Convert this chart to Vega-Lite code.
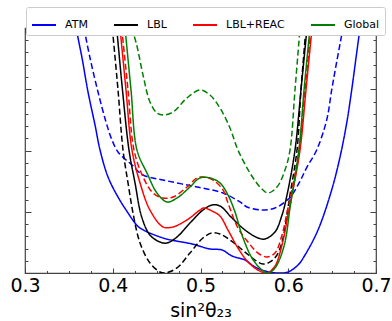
{
  "$schema": "https://vega.github.io/schema/vega-lite/v6.json",
  "width": 351,
  "height": 245,
  "autosize": {"type": "none"},
  "padding": {"left": 25, "top": 28, "right": 16, "bottom": 48},
  "background": "white",
  "config": {
    "view": {"stroke": "#444", "strokeWidth": 1.2},
    "font": "DejaVu Sans"
  },
  "datasets": {
    "curves": [
      {"s":"ATM","d":"dashed","x":0.3672,"y":20},{"s":"ATM","d":"dashed","x":0.3741,"y":17.55},{"s":"ATM","d":"dashed","x":0.3832,"y":14.78},{"s":"ATM","d":"dashed","x":0.3923,"y":12.33},{"s":"ATM","d":"dashed","x":0.3991,"y":10.86},{"s":"ATM","d":"dashed","x":0.4060,"y":9.88},{"s":"ATM","d":"dashed","x":0.4140,"y":9.31},{"s":"ATM","d":"dashed","x":0.4219,"y":8.82},{"s":"ATM","d":"dashed","x":0.4345,"y":8.0},{"s":"ATM","d":"dashed","x":0.4573,"y":7.59},{"s":"ATM","d":"dashed","x":0.4960,"y":7.02},{"s":"ATM","d":"dashed","x":0.5256,"y":6.53},{"s":"ATM","d":"dashed","x":0.5450,"y":5.8},{"s":"ATM","d":"dashed","x":0.5530,"y":5.39},{"s":"ATM","d":"dashed","x":0.5701,"y":5.14},{"s":"ATM","d":"dashed","x":0.5849,"y":5.31},{"s":"ATM","d":"dashed","x":0.5963,"y":5.8},{"s":"ATM","d":"dashed","x":0.6043,"y":6.37},{"s":"ATM","d":"dashed","x":0.6134,"y":7.5},{"s":"ATM","d":"dashed","x":0.6210,"y":8.6},{"s":"ATM","d":"dashed","x":0.6324,"y":10.04},{"s":"ATM","d":"dashed","x":0.6438,"y":12.49},{"s":"ATM","d":"dashed","x":0.6495,"y":14.94},{"s":"ATM","d":"dashed","x":0.6556,"y":17.39},{"s":"ATM","d":"dashed","x":0.6624,"y":20},
      {"s":"ATM","d":"solid","x":0.3581,"y":20},{"s":"ATM","d":"solid","x":0.3650,"y":17.55},{"s":"ATM","d":"solid","x":0.3718,"y":14.78},{"s":"ATM","d":"solid","x":0.3798,"y":12.08},{"s":"ATM","d":"solid","x":0.3855,"y":10.04},{"s":"ATM","d":"solid","x":0.3946,"y":7.84},{"s":"ATM","d":"solid","x":0.4060,"y":6.2},{"s":"ATM","d":"solid","x":0.4174,"y":4.9},{"s":"ATM","d":"solid","x":0.4254,"y":4.08},{"s":"ATM","d":"solid","x":0.4311,"y":3.67},{"s":"ATM","d":"solid","x":0.4573,"y":2.86},{"s":"ATM","d":"solid","x":0.4903,"y":2.37},{"s":"ATM","d":"solid","x":0.5108,"y":1.96},{"s":"ATM","d":"solid","x":0.5245,"y":1.88},{"s":"ATM","d":"solid","x":0.5359,"y":1.39},{"s":"ATM","d":"solid","x":0.5507,"y":1.06},{"s":"ATM","d":"solid","x":0.5621,"y":0.49},{"s":"ATM","d":"solid","x":0.5735,"y":0.16},{"s":"ATM","d":"solid","x":0.5883,"y":0.0},{"s":"ATM","d":"solid","x":0.5997,"y":0.08},{"s":"ATM","d":"solid","x":0.6111,"y":0.65},{"s":"ATM","d":"solid","x":0.6191,"y":1.47},{"s":"ATM","d":"solid","x":0.6339,"y":3.51},{"s":"ATM","d":"solid","x":0.6495,"y":6.78},{"s":"ATM","d":"solid","x":0.6590,"y":9.47},{"s":"ATM","d":"solid","x":0.6666,"y":12.24},{"s":"ATM","d":"solid","x":0.6723,"y":14.94},{"s":"ATM","d":"solid","x":0.6772,"y":17.55},{"s":"ATM","d":"solid","x":0.6818,"y":20},
      {"s":"LBL","d":"dashed","x":0.3995,"y":20},{"s":"LBL","d":"dashed","x":0.4060,"y":14.94},{"s":"LBL","d":"dashed","x":0.4117,"y":10.04},{"s":"LBL","d":"dashed","x":0.4174,"y":7.35},{"s":"LBL","d":"dashed","x":0.4231,"y":4.9},{"s":"LBL","d":"dashed","x":0.4311,"y":2.45},{"s":"LBL","d":"dashed","x":0.4424,"y":0.82},{"s":"LBL","d":"dashed","x":0.4538,"y":0.08},{"s":"LBL","d":"dashed","x":0.4595,"y":0.0},{"s":"LBL","d":"dashed","x":0.4732,"y":0.41},{"s":"LBL","d":"dashed","x":0.4880,"y":1.63},{"s":"LBL","d":"dashed","x":0.5028,"y":2.86},{"s":"LBL","d":"dashed","x":0.5131,"y":3.27},{"s":"LBL","d":"dashed","x":0.5222,"y":3.18},{"s":"LBL","d":"dashed","x":0.5336,"y":2.69},{"s":"LBL","d":"dashed","x":0.5507,"y":1.71},{"s":"LBL","d":"dashed","x":0.5621,"y":1.06},{"s":"LBL","d":"dashed","x":0.5712,"y":0.73},{"s":"LBL","d":"dashed","x":0.5792,"y":0.9},{"s":"LBL","d":"dashed","x":0.5872,"y":1.47},{"s":"LBL","d":"dashed","x":0.5929,"y":2.53},{"s":"LBL","d":"dashed","x":0.5963,"y":3.67},{"s":"LBL","d":"dashed","x":0.5997,"y":5.31},{"s":"LBL","d":"dashed","x":0.6020,"y":6.37},{"s":"LBL","d":"dashed","x":0.6100,"y":10.04},{"s":"LBL","d":"dashed","x":0.6145,"y":14.94},{"s":"LBL","d":"dashed","x":0.6202,"y":20},
      {"s":"LBL","d":"solid","x":0.4045,"y":20},{"s":"LBL","d":"solid","x":0.4111,"y":14.94},{"s":"LBL","d":"solid","x":0.4185,"y":10.04},{"s":"LBL","d":"solid","x":0.4254,"y":7.35},{"s":"LBL","d":"solid","x":0.4330,"y":4.57},{"s":"LBL","d":"solid","x":0.4424,"y":3.1},{"s":"LBL","d":"solid","x":0.4538,"y":2.53},{"s":"LBL","d":"solid","x":0.4618,"y":2.45},{"s":"LBL","d":"solid","x":0.4732,"y":2.94},{"s":"LBL","d":"solid","x":0.4880,"y":4.08},{"s":"LBL","d":"solid","x":0.5028,"y":5.14},{"s":"LBL","d":"solid","x":0.5131,"y":5.55},{"s":"LBL","d":"solid","x":0.5222,"y":5.47},{"s":"LBL","d":"solid","x":0.5359,"y":4.49},{"s":"LBL","d":"solid","x":0.5507,"y":3.51},{"s":"LBL","d":"solid","x":0.5655,"y":2.86},{"s":"LBL","d":"solid","x":0.5735,"y":2.78},{"s":"LBL","d":"solid","x":0.5849,"y":3.35},{"s":"LBL","d":"solid","x":0.5929,"y":4.73},{"s":"LBL","d":"solid","x":0.5986,"y":6.37},{"s":"LBL","d":"solid","x":0.6077,"y":10.04},{"s":"LBL","d":"solid","x":0.6145,"y":14.94},{"s":"LBL","d":"solid","x":0.6214,"y":20},
      {"s":"LBL+REAC","d":"dashed","x":0.4102,"y":20},{"s":"LBL+REAC","d":"dashed","x":0.4174,"y":14.94},{"s":"LBL+REAC","d":"dashed","x":0.4242,"y":10.04},{"s":"LBL+REAC","d":"dashed","x":0.4345,"y":7.84},{"s":"LBL+REAC","d":"dashed","x":0.4459,"y":6.53},{"s":"LBL+REAC","d":"dashed","x":0.4573,"y":6.12},{"s":"LBL+REAC","d":"dashed","x":0.4687,"y":6.2},{"s":"LBL+REAC","d":"dashed","x":0.4846,"y":7.02},{"s":"LBL+REAC","d":"dashed","x":0.4960,"y":7.76},{"s":"LBL+REAC","d":"dashed","x":0.5028,"y":7.84},{"s":"LBL+REAC","d":"dashed","x":0.5142,"y":7.59},{"s":"LBL+REAC","d":"dashed","x":0.5256,"y":6.78},{"s":"LBL+REAC","d":"dashed","x":0.5313,"y":5.71},{"s":"LBL+REAC","d":"dashed","x":0.5427,"y":3.67},{"s":"LBL+REAC","d":"dashed","x":0.5541,"y":2.53},{"s":"LBL+REAC","d":"dashed","x":0.5655,"y":1.63},{"s":"LBL+REAC","d":"dashed","x":0.5758,"y":1.31},{"s":"LBL+REAC","d":"dashed","x":0.5849,"y":1.63},{"s":"LBL+REAC","d":"dashed","x":0.5929,"y":3.1},{"s":"LBL+REAC","d":"dashed","x":0.5997,"y":5.31},{"s":"LBL+REAC","d":"dashed","x":0.6031,"y":6.37},{"s":"LBL+REAC","d":"dashed","x":0.6122,"y":10.04},{"s":"LBL+REAC","d":"dashed","x":0.6191,"y":14.94},{"s":"LBL+REAC","d":"dashed","x":0.6259,"y":20},
      {"s":"LBL+REAC","d":"solid","x":0.4083,"y":20},{"s":"LBL+REAC","d":"solid","x":0.4151,"y":14.94},{"s":"LBL+REAC","d":"solid","x":0.4219,"y":10.04},{"s":"LBL+REAC","d":"solid","x":0.4311,"y":7.35},{"s":"LBL+REAC","d":"solid","x":0.4424,"y":5.14},{"s":"LBL+REAC","d":"solid","x":0.4573,"y":3.76},{"s":"LBL+REAC","d":"solid","x":0.4687,"y":3.76},{"s":"LBL+REAC","d":"solid","x":0.4846,"y":4.33},{"s":"LBL+REAC","d":"solid","x":0.4994,"y":5.14},{"s":"LBL+REAC","d":"solid","x":0.5040,"y":5.31},{"s":"LBL+REAC","d":"solid","x":0.5131,"y":5.06},{"s":"LBL+REAC","d":"solid","x":0.5222,"y":4.65},{"s":"LBL+REAC","d":"solid","x":0.5313,"y":3.51},{"s":"LBL+REAC","d":"solid","x":0.5427,"y":2.04},{"s":"LBL+REAC","d":"solid","x":0.5541,"y":0.9},{"s":"LBL+REAC","d":"solid","x":0.5655,"y":0.24},{"s":"LBL+REAC","d":"solid","x":0.5758,"y":0.0},{"s":"LBL+REAC","d":"solid","x":0.5849,"y":0.57},{"s":"LBL+REAC","d":"solid","x":0.5929,"y":2.29},{"s":"LBL+REAC","d":"solid","x":0.5997,"y":4.73},{"s":"LBL+REAC","d":"solid","x":0.6043,"y":6.37},{"s":"LBL+REAC","d":"solid","x":0.6134,"y":10.04},{"s":"LBL+REAC","d":"solid","x":0.6202,"y":14.94},{"s":"LBL+REAC","d":"solid","x":0.6271,"y":20},
      {"s":"Global","d":"dashed","x":0.4216,"y":20},{"s":"Global","d":"dashed","x":0.4273,"y":18.61},{"s":"Global","d":"dashed","x":0.4345,"y":16.16},{"s":"Global","d":"dashed","x":0.4424,"y":13.96},{"s":"Global","d":"dashed","x":0.4504,"y":13.06},{"s":"Global","d":"dashed","x":0.4573,"y":12.9},{"s":"Global","d":"dashed","x":0.4687,"y":13.14},{"s":"Global","d":"dashed","x":0.4846,"y":14.29},{"s":"Global","d":"dashed","x":0.4994,"y":14.94},{"s":"Global","d":"dashed","x":0.5108,"y":14.53},{"s":"Global","d":"dashed","x":0.5222,"y":13.47},{"s":"Global","d":"dashed","x":0.5336,"y":11.84},{"s":"Global","d":"dashed","x":0.5427,"y":10.04},{"s":"Global","d":"dashed","x":0.5564,"y":8.16},{"s":"Global","d":"dashed","x":0.5678,"y":7.02},{"s":"Global","d":"dashed","x":0.5769,"y":6.53},{"s":"Global","d":"dashed","x":0.5872,"y":7.02},{"s":"Global","d":"dashed","x":0.5963,"y":8.41},{"s":"Global","d":"dashed","x":0.6020,"y":10.04},{"s":"Global","d":"dashed","x":0.6077,"y":14.94},{"s":"Global","d":"dashed","x":0.6134,"y":20},
      {"s":"Global","d":"solid","x":0.4140,"y":20},{"s":"Global","d":"solid","x":0.4208,"y":14.94},{"s":"Global","d":"solid","x":0.4276,"y":10.04},{"s":"Global","d":"solid","x":0.4390,"y":8.16},{"s":"Global","d":"solid","x":0.4504,"y":6.53},{"s":"Global","d":"solid","x":0.4618,"y":5.8},{"s":"Global","d":"solid","x":0.4732,"y":6.12},{"s":"Global","d":"solid","x":0.4880,"y":7.02},{"s":"Global","d":"solid","x":0.4994,"y":7.76},{"s":"Global","d":"solid","x":0.5108,"y":7.76},{"s":"Global","d":"solid","x":0.5222,"y":7.35},{"s":"Global","d":"solid","x":0.5313,"y":6.37},{"s":"Global","d":"solid","x":0.5393,"y":4.98},{"s":"Global","d":"solid","x":0.5473,"y":3.1},{"s":"Global","d":"solid","x":0.5587,"y":1.22},{"s":"Global","d":"solid","x":0.5701,"y":0.24},{"s":"Global","d":"solid","x":0.5769,"y":0.0},{"s":"Global","d":"solid","x":0.5849,"y":0.41},{"s":"Global","d":"solid","x":0.5952,"y":2.2},{"s":"Global","d":"solid","x":0.6020,"y":5.31},{"s":"Global","d":"solid","x":0.6043,"y":6.37},{"s":"Global","d":"solid","x":0.6122,"y":10.04},{"s":"Global","d":"solid","x":0.6180,"y":14.94},{"s":"Global","d":"solid","x":0.6248,"y":20}
    ]
  },
  "data": {"name": "curves"},
  "resolve": {"axis": {"x": "independent", "y": "independent"}},
  "layer": [
    {
      "mark": {"type": "line", "strokeWidth": 1.5, "clip": true, "interpolate": "catmull-rom"},
      "encoding": {
        "x": {
          "field": "x", "type": "quantitative",
          "scale": {"domain": [0.3, 0.7], "nice": false, "zero": false},
          "axis": {
            "orient": "bottom",
            "values": [0.3,0.325,0.35,0.375,0.4,0.425,0.45,0.475,0.5,0.525,0.55,0.575,0.6,0.625,0.65,0.675,0.7],
            "labelExpr": "abs(datum.value*10-round(datum.value*10))<0.001 ? format(datum.value,'.1f') : ''",
            "tickSize": {"condition": {"test": "abs(datum.value*10-round(datum.value*10))<0.001", "value": -5}, "value": -2.5},
            "tickColor": "#444",
            "labelFlush": false, "labelOverlap": false,
            "labelPadding": 8, "labelFontSize": 19, "labelFont": "DejaVu Sans", "labelColor": "#000",
            "domain": false, "grid": false,
            "title": "sin²θ₂₃", "titleFont": "DejaVu Sans", "titleFontSize": 19, "titleFontWeight": "normal", "titleColor": "#000", "titlePadding": 4
          }
        },
        "y": {
          "field": "y", "type": "quantitative",
          "scale": {"domain": [0, 20], "nice": false, "zero": false},
          "axis": {
            "orient": "left",
            "values": [0,1,2,3,4,5,6,7,8,9,10,11,12,13,14,15,16,17,18,19,20],
            "labels": false, "title": null, "domain": false, "grid": false,
            "tickColor": "#444",
            "tickSize": {"condition": {"test": "datum.value % 5 === 0", "value": -6}, "value": -3}
          }
        },
        "color": {
          "field": "s", "type": "nominal",
          "scale": {"domain": ["ATM", "LBL", "LBL+REAC", "Global"], "range": ["#0000ff", "#000000", "#ff0000", "#008000"]},
          "legend": {
            "orient": "none", "legendX": 1, "legendY": -21, "direction": "horizontal",
            "title": null, "symbolType": "stroke", "symbolSize": 576, "symbolStrokeWidth": 2,
            "labelFontSize": 11, "labelFont": "DejaVu Sans", "labelColor": "#000", "labelOffset": 8,
            "columnPadding": 22, "padding": 5, "fillColor": "white", "strokeColor": "#ccc", "cornerRadius": 2
          }
        },
        "strokeDash": {
          "field": "d", "type": "nominal",
          "scale": {"domain": ["solid", "dashed"], "range": [[1, 0], [6, 3]]},
          "legend": null
        }
      }
    },
    {
      "mark": {"type": "point", "opacity": 0},
      "encoding": {
        "x": {
          "field": "x", "type": "quantitative",
          "scale": {"domain": [0.3, 0.7], "nice": false, "zero": false},
          "axis": {
            "orient": "top",
            "values": [0.3,0.325,0.35,0.375,0.4,0.425,0.45,0.475,0.5,0.525,0.55,0.575,0.6,0.625,0.65,0.675,0.7],
            "labels": false, "title": null, "domain": false, "grid": false, "tickColor": "#444",
            "tickSize": {"condition": {"test": "abs(datum.value*10-round(datum.value*10))<0.001", "value": -5}, "value": -2.5}
          }
        },
        "y": {
          "field": "y", "type": "quantitative",
          "scale": {"domain": [0, 20], "nice": false, "zero": false},
          "axis": {
            "orient": "right",
            "values": [0,1,2,3,4,5,6,7,8,9,10,11,12,13,14,15,16,17,18,19,20],
            "labels": false, "title": null, "domain": false, "grid": false, "tickColor": "#444",
            "tickSize": {"condition": {"test": "datum.value % 5 === 0", "value": -6}, "value": -3}
          }
        }
      }
    }
  ]
}
